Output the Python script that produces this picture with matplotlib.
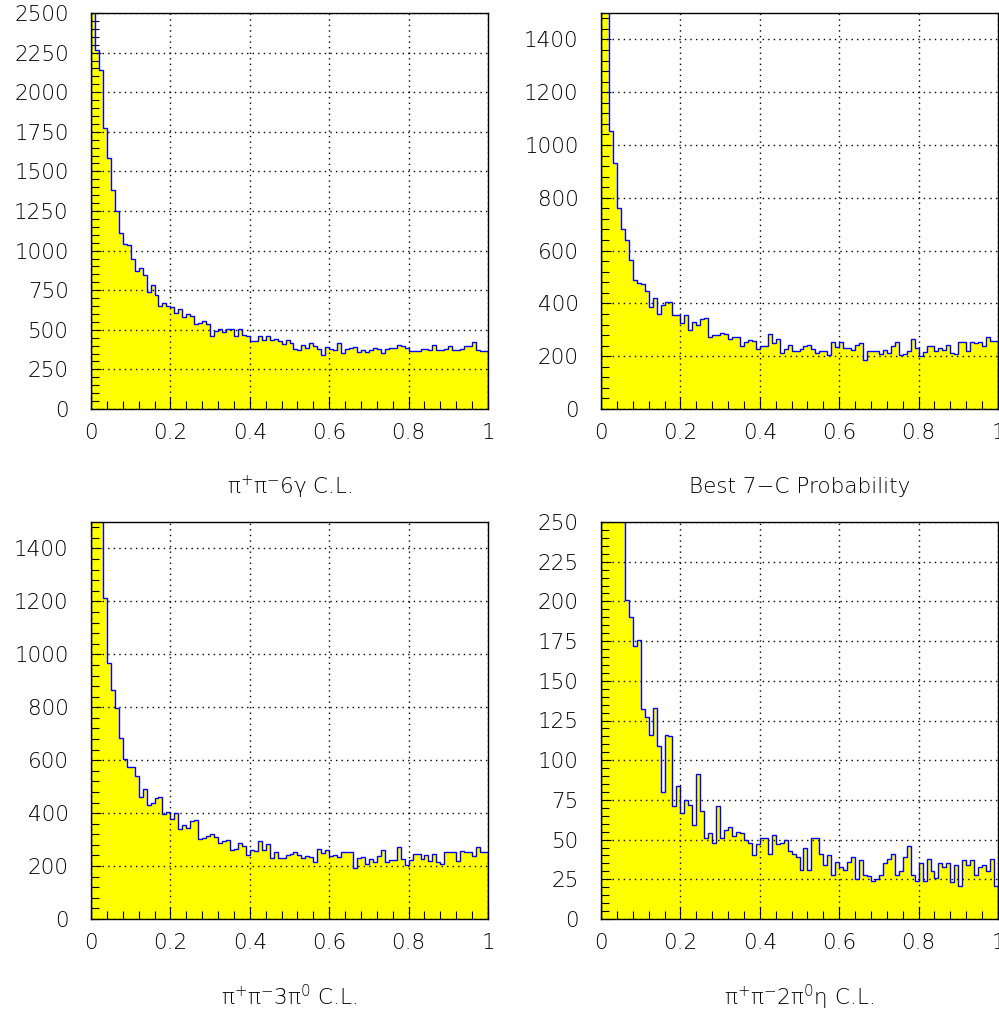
import numpy as np
import matplotlib
matplotlib.use("Agg")
import matplotlib.pyplot as plt
from matplotlib.ticker import MultipleLocator, FuncFormatter

# 100 bins on [0, 1] for every panel
edges = np.linspace(0.0, 1.0, 101)

# pi+ pi- 6gamma C.L.
counts_6g = [2900, 2265, 2143, 1772, 1585, 1385, 1251, 1113, 1040, 1035,
             945, 873, 888, 844, 741, 781, 718, 651, 670, 651,
             644, 607, 632, 579, 602, 588, 535, 542, 558, 535,
             462, 491, 506, 485, 506, 506, 462, 506, 470, 458,
             430, 430, 458, 437, 464, 437, 441, 432, 411, 437,
             416, 378, 374, 405, 384, 416, 395, 378, 342, 390,
             378, 374, 416, 353, 378, 382, 393, 363, 374, 363,
             374, 386, 378, 353, 378, 386, 382, 407, 395, 382,
             367, 367, 367, 378, 378, 374, 407, 374, 374, 378,
             395, 374, 374, 378, 399, 395, 424, 374, 365, 365]

# Best 7-C probability
counts_7c = [2600, 1700, 1052, 930, 763, 680, 642, 564, 488, 476,
             472, 447, 386, 419, 360, 394, 405, 405, 356, 356,
             325, 356, 300, 331, 318, 341, 344, 274, 279, 279,
             289, 283, 267, 274, 272, 239, 252, 262, 257, 227,
             237, 237, 283, 249, 264, 211, 227, 244, 218, 218,
             229, 237, 243, 229, 214, 221, 218, 204, 255, 234,
             255, 230, 230, 224, 242, 249, 186, 221, 221, 219,
             209, 224, 214, 237, 255, 204, 209, 221, 264, 230,
             201, 216, 239, 239, 219, 232, 224, 244, 214, 209,
             252, 255, 219, 252, 249, 252, 239, 272, 257, 257]

# pi+ pi- 3pi0 C.L.
counts_3pi0 = [2500, 1900, 1600, 1214, 967, 866, 797, 683, 604, 573,
               573, 539, 461, 491, 432, 440, 457, 461, 398, 404,
               378, 400, 340, 356, 344, 371, 373, 302, 305, 315,
               321, 308, 287, 293, 297, 259, 264, 289, 274, 243,
               259, 257, 293, 259, 284, 230, 255, 230, 230, 242,
               247, 254, 242, 230, 237, 234, 216, 264, 249, 262,
               239, 242, 234, 252, 252, 252, 191, 230, 234, 209,
               227, 214, 237, 259, 214, 224, 224, 272, 227, 204,
               224, 244, 244, 227, 242, 221, 247, 214, 209, 254,
               254, 254, 219, 257, 252, 254, 239, 272, 255, 255]

# pi+ pi- 2pi0 eta C.L.
counts_2pi0eta = [600, 480, 400, 330, 290, 260, 201, 190, 172, 176,
                  132, 127, 116, 133, 109, 80, 116, 115, 71, 84,
                  67, 75, 72, 59, 91, 68, 51, 54, 48, 71,
                  51, 56, 58, 52, 55, 54, 50, 48, 40, 47,
                  51, 51, 41, 53, 47, 48, 50, 43, 41, 39,
                  31, 45, 31, 51, 51, 41, 34, 40, 28, 36,
                  33, 31, 36, 39, 25, 37, 28, 27, 24, 25,
                  28, 35, 38, 41, 28, 30, 39, 46, 28, 24,
                  35, 24, 38, 30, 26, 35, 33, 35, 23, 34,
                  21, 37, 34, 37, 28, 33, 34, 30, 38, 21]

titles = ["π$^{+}$π$^{-}$6γ C.L.", "Best 7−C Probability",
          "π$^{+}$π$^{-}$3π$^{0}$ C.L.", "π$^{+}$π$^{-}$2π$^{0}$η C.L."]
ymaxs = [2500, 1500, 1500, 250]
ysteps = [250, 200, 200, 25]

plt.rcParams['font.family'] = ['DejaVu Sans']
plt.rcParams['font.weight'] = 'light'
plt.rcParams['mathtext.fontset'] = 'dejavusans'

fig = plt.figure(figsize=(9.99, 10.14), dpi=100)
W, H = 999.0, 1014.0
# axes boxes in pixels: (left, top, right, bottom)
boxes = [(91, 13, 488, 409), (601, 13, 998, 409),
         (91, 522, 488, 919), (601, 522, 998, 919)]

data = [counts_6g, counts_7c, counts_3pi0, counts_2pi0eta]

fmt = FuncFormatter(lambda v, p: f"{v:g}")

for (l, t, r, b), vals, title, ymax, ystep in zip(boxes, data, titles, ymaxs, ysteps):
    ax = fig.add_axes([l / W, 1 - b / H, (r - l) / W, (b - t) / H])
    vals = np.array(vals, dtype=float)
    ax.stairs(vals, edges, fill=True, color='#ffff00', zorder=1)
    ax.stairs(vals, edges, color='#0000ff', linewidth=1.0, zorder=2)

    ax.set_xlim(0, 1)
    ax.set_ylim(0, ymax)
    ax.xaxis.set_major_locator(MultipleLocator(0.2))
    ax.xaxis.set_minor_locator(MultipleLocator(0.04))
    ax.yaxis.set_major_locator(MultipleLocator(ystep))
    ax.yaxis.set_minor_locator(MultipleLocator(ystep / 5))
    ax.xaxis.set_major_formatter(fmt)
    ax.yaxis.set_major_formatter(fmt)

    ax.grid(True, which='major', color='black', linestyle=(0, (1, 3)), linewidth=1.0)
    ax.tick_params(axis='both', which='both', direction='in', width=0.8,
                   top=False, right=False, labelsize=15.5)
    ax.tick_params(axis='x', which='major', length=8.5, pad=10)
    ax.tick_params(axis='x', which='minor', length=5.8)
    ax.tick_params(axis='y', which='major', length=7, pad=16)
    ax.tick_params(axis='y', which='minor', length=5.8)
    for s in ax.spines.values():
        s.set_linewidth(1.0)
        s.set_zorder(3)

    ax.text(0.5, -78.0 / (b - t), title, transform=ax.transAxes,
            ha='center', va='center', fontsize=15.5)

fig.savefig("out.png", dpi=100)
